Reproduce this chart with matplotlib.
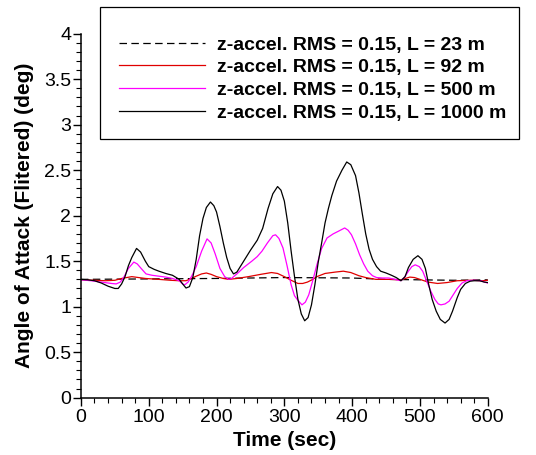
import matplotlib
matplotlib.use('Agg')
import matplotlib.pyplot as plt
from matplotlib.patches import Rectangle
from matplotlib.ticker import MultipleLocator

plt.rcParams['font.family'] = ['Liberation Sans', 'DejaVu Sans']

# L = 23 m (dashed)
t_23 = [0, 100, 200, 300, 400, 450, 500, 550, 600]
aoa_23 = [1.30, 1.305, 1.31, 1.32, 1.315, 1.30, 1.295, 1.29, 1.295]

# L = 92 m (red)
t_92 = [0, 20, 36, 50, 60, 75, 85, 95, 115, 132, 145, 155, 163, 170, 178, 185,
        192, 200, 210, 218, 230, 247, 265, 281, 290, 300, 310, 320, 327, 334,
        342, 348, 360, 375, 387, 398, 410, 420, 435, 455, 472, 485, 492, 502,
        512, 526, 540, 555, 575, 593, 600]
aoa_92 = [1.296, 1.29, 1.285, 1.29, 1.31, 1.33, 1.32, 1.31, 1.30, 1.29, 1.285,
          1.285, 1.31, 1.335, 1.36, 1.37, 1.355, 1.33, 1.31, 1.30, 1.31, 1.33,
          1.355, 1.375, 1.365, 1.33, 1.29, 1.255, 1.255, 1.27, 1.30, 1.33,
          1.365, 1.38, 1.39, 1.375, 1.34, 1.32, 1.30, 1.30, 1.295, 1.325, 1.32,
          1.295, 1.27, 1.255, 1.265, 1.285, 1.29, 1.285, 1.29]

# L = 500 m (magenta)
t_500 = [0, 15, 30, 45, 52, 58, 63, 70, 78, 83, 90, 96, 105, 115, 125, 135, 145,
         150, 153, 158, 163, 170, 178, 186, 192, 198, 205, 212, 218, 222, 230,
         240, 252, 260, 267, 275, 283, 287, 292, 298, 304, 310, 315, 320, 326,
         331, 336, 342, 348, 355, 363, 372, 380, 389, 394, 399, 405, 411, 417,
         423, 430, 436, 445, 454, 463, 472, 477, 483, 488, 493, 499, 504, 510,
         516, 522, 527, 531, 537, 543, 549, 555, 562, 569, 580, 590, 595, 600]
aoa_500 = [1.295, 1.285, 1.27, 1.255, 1.25, 1.27, 1.32, 1.42, 1.49, 1.47, 1.41,
           1.36, 1.345, 1.335, 1.325, 1.31, 1.285, 1.25, 1.24, 1.27, 1.33, 1.44,
           1.61, 1.745, 1.70, 1.58, 1.42, 1.33, 1.30, 1.31, 1.36, 1.43, 1.50,
           1.55, 1.61, 1.70, 1.78, 1.79, 1.75, 1.645, 1.45, 1.24, 1.12, 1.07,
           1.02, 1.05, 1.13, 1.29, 1.46, 1.64, 1.755, 1.80, 1.83, 1.865, 1.84,
           1.79, 1.69, 1.57, 1.47, 1.39, 1.34, 1.32, 1.315, 1.315, 1.30, 1.285,
           1.32, 1.39, 1.44, 1.46, 1.44, 1.39, 1.28, 1.17, 1.08, 1.03, 1.02,
           1.03, 1.06, 1.13, 1.20, 1.26, 1.285, 1.29, 1.285, 1.27, 1.26]

# L = 1000 m (black)
t_1000 = [0, 10, 20, 30, 40, 50, 55, 60, 65, 70, 75, 82, 88, 95, 100, 108, 115,
          125, 135, 145, 150, 155, 160, 165, 170, 175, 180, 185, 191, 196, 200,
          205, 210, 215, 220, 225, 230, 240, 250, 260, 268, 276, 283, 290, 295,
          300, 305, 310, 315, 320, 325, 330, 335, 340, 345, 350, 355, 360, 365,
          370, 377, 385, 392, 398, 405, 410, 415, 420, 425, 430, 436, 442, 450,
          458, 465, 472, 478, 483, 490, 497, 503, 508, 513, 518, 524, 530, 537,
          543, 548, 555, 560, 567, 574, 580, 588, 595, 600]
aoa_1000 = [1.30, 1.295, 1.285, 1.26, 1.225, 1.20, 1.20, 1.25, 1.33, 1.45, 1.54,
            1.64, 1.60, 1.50, 1.44, 1.41, 1.39, 1.365, 1.345, 1.30, 1.25, 1.205,
            1.22, 1.32, 1.52, 1.78, 1.97, 2.09, 2.15, 2.11, 2.04, 1.88, 1.70,
            1.54, 1.42, 1.36, 1.38, 1.50, 1.62, 1.73, 1.86, 2.08, 2.24, 2.32,
            2.28, 2.16, 1.92, 1.61, 1.33, 1.08, 0.92, 0.845, 0.88, 1.02, 1.24,
            1.49, 1.70, 1.92, 2.08, 2.22, 2.38, 2.50, 2.59, 2.56, 2.44, 2.25,
            2.02, 1.80, 1.63, 1.52, 1.44, 1.39, 1.37, 1.345, 1.32, 1.285, 1.33,
            1.43, 1.52, 1.56, 1.52, 1.42, 1.24, 1.08, 0.95, 0.86, 0.82, 0.86,
            0.95, 1.10, 1.19, 1.255, 1.28, 1.285, 1.285, 1.27, 1.265]

labels = ['z-accel. RMS = 0.15, L = 23 m',
          'z-accel. RMS = 0.15, L = 92 m',
          'z-accel. RMS = 0.15, L = 500 m',
          'z-accel. RMS = 0.15, L = 1000 m']

fig = plt.figure(figsize=(5.36, 4.55), dpi=100)
ax = fig.add_axes([0.151, 0.126, 0.759, 0.80])

l1, = ax.plot(t_23, aoa_23, color='black', lw=0.9, linestyle=(0, (6, 3.5)))
l2, = ax.plot(t_92, aoa_92, color='#e00000', lw=0.9)
l3, = ax.plot(t_500, aoa_500, color='#ff00ff', lw=0.9)
l4, = ax.plot(t_1000, aoa_1000, color='black', lw=0.9)

ax.set_xlim(0, 600)
ax.set_ylim(0, 4)
ax.xaxis.set_major_locator(MultipleLocator(100))
ax.xaxis.set_minor_locator(MultipleLocator(20))
ax.yaxis.set_major_locator(MultipleLocator(0.5))
ax.yaxis.set_minor_locator(MultipleLocator(0.1))
ax.yaxis.set_major_formatter(plt.FuncFormatter(lambda v, p: f'{v:g}'))

for s in ['top', 'right']:
    ax.spines[s].set_visible(False)
for s in ['left', 'bottom']:
    ax.spines[s].set_linewidth(1.1)

ax.tick_params(which='major', direction='out', length=6, width=1.0,
               labelsize=14, pad=1)
ax.tick_params(which='minor', direction='out', length=3.5, width=0.8)
ax.tick_params(axis='x', which='major', pad=2)

ax.set_xlabel('Time (sec)', fontsize=15, fontweight='bold', labelpad=4)
ax.set_ylabel('Angle of Attack (Flitered) (deg)', fontsize=15,
              fontweight='bold', labelpad=7)

# legend box drawn in figure coordinates
fig.patches.append(Rectangle((0.1866, 0.6945), 0.7814, 0.29, transform=fig.transFigure,
                             fill=False, edgecolor='black', lw=0.9))
fig.legend([l1, l2, l3, l4], labels, loc='upper left',
           bbox_to_anchor=(0.222, 0.921), frameon=False,
           prop={'weight': 'bold', 'size': 14},
           handlelength=4.4, handletextpad=0.65, labelspacing=0.26,
           borderaxespad=0, borderpad=0)

fig.savefig('out.png', dpi=100)
